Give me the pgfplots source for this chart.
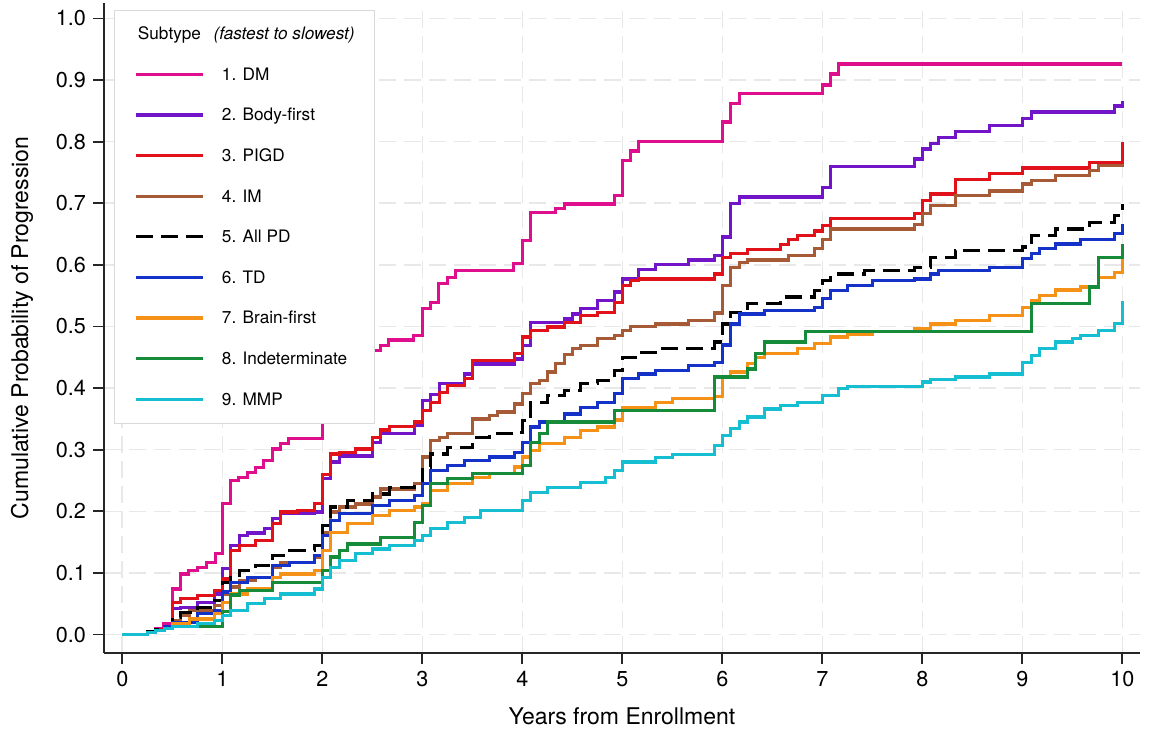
\documentclass[border=0pt]{standalone}
\usepackage{fontspec}
\setmainfont{TeX Gyre Heros}
\usepackage{pgfplots}
\pgfplotsset{compat=1.18}
\definecolor{cDM}{RGB}{222,14,140}
\definecolor{cBF}{RGB}{114,20,200}
\definecolor{cPIGD}{RGB}{225,18,26}
\definecolor{cIM}{RGB}{166,90,54}
\definecolor{cTD}{RGB}{20,50,200}
\definecolor{cBR}{RGB}{245,145,22}
\definecolor{cIN}{RGB}{22,140,58}
\definecolor{cMMP}{RGB}{22,190,210}
\newcommand\LE[1]{\raisebox{0pt}[7.5pt][1.5pt]{#1}}
\begin{document}
\begin{tikzpicture}[x=1pt,y=1pt]
\useasboundingbox (0,0) rectangle (585,367.5);
\begin{axis}[
  at={(52pt,41pt)}, anchor=south west,
  width=518pt, height=325pt, scale only axis,
  xmin=-0.183, xmax=10.177, ymin=-0.030, ymax=1.025,
  axis x line*=bottom, axis y line*=left,
  axis line style={line width=1pt, black!85, -},
  every outer x axis line/.append style={-},
  every outer y axis line/.append style={-},
  xtick={0,1,2,3,4,5,6,7,8,9,10},
  ytick={0,0.1,0.2,0.3,0.4,0.5,0.6,0.7,0.8,0.9,1.0},
  tick align=outside, major tick length=5.5pt,
  tick style={line width=0.9pt, black!85},
  grid=major,
  grid style={dash pattern=on 8.5pt off 4pt, line width=0.8pt, color=black!9},
  /pgf/number format/assume math mode=true,
  yticklabel style={/pgf/number format/.cd, fixed, fixed zerofill, precision=1},
  ticklabel style={font=\fontsize{10.8}{13}\selectfont},
  xlabel={Years from Enrollment},
  ylabel={Cumulative Probability of Progression},
  label style={font=\fontsize{11.5}{14}\selectfont},
  xlabel style={at={(axis description cs:0.5,-0.0969)}, anchor=center},
  ylabel style={at={(axis description cs:-0.0792,0.5)}, anchor=center},
  const plot, no markers,
  every axis plot/.append style={line width=1.65pt},
  legend cell align=left,
  legend style={at={(axis description cs:0.0097,0.989)}, anchor=north west,
    draw=black!15, line width=0.6pt, fill=white,
    font=\fontsize{8.6}{10}\selectfont,
    inner xsep=10pt, inner ysep=7.75pt, row sep=11.3pt,
    nodes={inner sep=0pt},
    /tikz/every odd column/.append style={column sep=8.5pt}},
  legend image code/.code={\draw[#1, line width=1.65pt] (0pt,0pt) -- (33.5pt,0pt);},
]
\addlegendimage{empty legend}
\addlegendentry{\raisebox{0pt}[6.75pt][-3.8pt]{\hspace*{-42pt}Subtype\hspace{6.3pt}\textit{(fastest to slowest)}}}

\addplot[cDM] coordinates {(0,0) (0.25,0.005) (0.33,0.01) (0.41,0.018) (0.5,0.074) (0.58,0.098) (0.66,0.104) (0.75,0.109) (0.84,0.117) (0.93,0.131) (1.0,0.213) (1.08,0.25) (1.16,0.255) (1.25,0.263) (1.33,0.271) (1.41,0.282) (1.5,0.301) (1.58,0.31) (1.66,0.318) (2.0,0.40) (2.08,0.42) (2.17,0.43) (2.25,0.44) (2.33,0.45) (2.42,0.455) (2.51,0.461) (2.58,0.469) (2.66,0.478) (2.91,0.485) (3.0,0.529) (3.08,0.539) (3.16,0.57) (3.25,0.58) (3.33,0.591) (3.91,0.602) (4.0,0.64) (4.08,0.685) (4.33,0.692) (4.42,0.699) (4.92,0.712) (5.0,0.769) (5.08,0.785) (5.16,0.80) (6.0,0.832) (6.08,0.862) (6.17,0.878) (7.0,0.892) (7.08,0.91) (7.16,0.926) (10,0.926)};
\addlegendentry{\LE{1. DM}}

\addplot[cBF] coordinates {(0,0) (0.25,0.004) (0.33,0.008) (0.42,0.013) (0.5,0.042) (0.58,0.044) (0.75,0.052) (0.92,0.066) (1.0,0.107) (1.08,0.144) (1.17,0.161) (1.25,0.165) (1.42,0.172) (1.5,0.188) (1.58,0.196) (1.92,0.199) (2.0,0.253) (2.08,0.28) (2.17,0.29) (2.5,0.312) (2.58,0.326) (2.92,0.339) (3.0,0.38) (3.08,0.39) (3.17,0.407) (3.42,0.423) (3.5,0.439) (3.92,0.447) (4.0,0.469) (4.08,0.507) (4.42,0.512) (4.5,0.52) (4.58,0.529) (4.75,0.542) (4.92,0.556) (5.0,0.577) (5.16,0.592) (5.33,0.601) (5.66,0.608) (5.92,0.615) (6.0,0.645) (6.08,0.70) (6.17,0.71) (7.0,0.726) (7.08,0.76) (7.92,0.772) (8.0,0.788) (8.08,0.797) (8.16,0.807) (8.33,0.817) (8.67,0.826) (9.0,0.837) (9.09,0.848) (9.92,0.858) (10,0.866)};
\addlegendentry{\LE{2. Body-first}}

\addplot[cPIGD] coordinates {(0,0) (0.25,0.004) (0.33,0.008) (0.42,0.013) (0.5,0.052) (0.58,0.058) (0.75,0.063) (0.92,0.071) (1.0,0.09) (1.08,0.136) (1.17,0.144) (1.33,0.153) (1.5,0.18) (1.58,0.199) (1.75,0.201) (1.92,0.213) (2.0,0.26) (2.08,0.293) (2.17,0.296) (2.33,0.301) (2.5,0.32) (2.58,0.332) (2.67,0.338) (2.92,0.345) (3.0,0.364) (3.08,0.377) (3.17,0.393) (3.25,0.404) (3.42,0.415) (3.5,0.445) (3.92,0.456) (4.0,0.483) (4.08,0.494) (4.25,0.499) (4.42,0.507) (4.58,0.518) (4.75,0.523) (4.92,0.539) (5.0,0.566) (5.08,0.575) (5.16,0.577) (5.92,0.585) (6.0,0.612) (6.08,0.618) (6.25,0.625) (6.58,0.633) (6.66,0.641) (6.75,0.648) (6.92,0.655) (7.0,0.664) (7.08,0.675) (7.92,0.683) (8.0,0.705) (8.08,0.715) (8.33,0.739) (8.67,0.748) (9.0,0.757) (9.67,0.766) (10,0.80)};
\addlegendentry{\LE{3. PIGD}}

\addplot[cIM] coordinates {(0,0) (0.25,0.003) (0.33,0.007) (0.42,0.012) (0.5,0.023) (0.58,0.031) (0.67,0.039) (0.92,0.047) (1.0,0.066) (1.08,0.077) (1.17,0.088) (1.33,0.093) (1.5,0.109) (1.58,0.117) (1.92,0.126) (2.0,0.166) (2.08,0.199) (2.17,0.207) (2.33,0.212) (2.5,0.223) (2.58,0.236) (2.92,0.245) (3.0,0.288) (3.08,0.315) (3.17,0.32) (3.25,0.326) (3.5,0.35) (3.67,0.356) (3.75,0.361) (3.92,0.374) (4.0,0.391) (4.08,0.407) (4.17,0.412) (4.25,0.426) (4.33,0.44) (4.42,0.455) (4.5,0.464) (4.58,0.469) (4.75,0.48) (4.92,0.485) (5.0,0.493) (5.08,0.50) (5.33,0.504) (5.66,0.51) (5.92,0.522) (6.0,0.566) (6.08,0.596) (6.17,0.604) (6.25,0.608) (6.66,0.615) (6.92,0.626) (7.0,0.641) (7.08,0.658) (7.92,0.666) (8.0,0.683) (8.08,0.696) (8.33,0.712) (8.67,0.72) (9.0,0.731) (9.09,0.737) (9.33,0.745) (9.67,0.753) (9.76,0.761) (10,0.764)};
\addlegendentry{\LE{4. IM}}

\addplot[black, dash pattern=on 8.5pt off 4pt] coordinates {(0,0) (0.25,0.004) (0.33,0.008) (0.42,0.012) (0.5,0.028) (0.58,0.036) (0.75,0.044) (0.92,0.055) (1.0,0.085) (1.08,0.093) (1.17,0.104) (1.33,0.112) (1.5,0.128) (1.67,0.136) (1.92,0.144) (2.0,0.177) (2.08,0.207) (2.25,0.218) (2.5,0.228) (2.67,0.239) (2.92,0.245) (3.0,0.272) (3.08,0.293) (3.25,0.304) (3.5,0.32) (3.67,0.326) (3.92,0.328) (4.0,0.347) (4.08,0.377) (4.25,0.388) (4.42,0.396) (4.58,0.407) (4.75,0.412) (4.92,0.429) (5.0,0.45) (5.16,0.458) (5.33,0.464) (5.92,0.475) (6.0,0.504) (6.08,0.523) (6.25,0.537) (6.58,0.548) (6.92,0.558) (7.0,0.575) (7.08,0.585) (7.42,0.591) (7.92,0.596) (8.08,0.612) (8.33,0.623) (9.0,0.629) (9.09,0.648) (9.33,0.658) (9.67,0.669) (9.92,0.68) (10,0.699)};
\addlegendentry{\LE{5. All PD}}

\addplot[cTD] coordinates {(0,0) (0.25,0.003) (0.33,0.007) (0.42,0.012) (0.5,0.02) (0.75,0.034) (0.92,0.039) (1.0,0.069) (1.08,0.085) (1.25,0.093) (1.5,0.112) (1.67,0.117) (1.92,0.128) (2.0,0.161) (2.08,0.185) (2.17,0.196) (2.5,0.209) (2.67,0.218) (2.92,0.226) (3.0,0.245) (3.08,0.266) (3.25,0.274) (3.42,0.282) (3.67,0.288) (3.92,0.296) (4.0,0.312) (4.08,0.337) (4.17,0.345) (4.42,0.358) (4.58,0.369) (4.75,0.377) (4.92,0.391) (5.0,0.415) (5.16,0.423) (5.33,0.429) (5.66,0.437) (5.92,0.442) (6.0,0.47) (6.08,0.504) (6.17,0.52) (6.42,0.526) (6.92,0.531) (7.0,0.545) (7.08,0.558) (7.25,0.566) (7.5,0.575) (7.92,0.577) (8.08,0.585) (8.16,0.591) (8.67,0.596) (9.0,0.61) (9.09,0.618) (9.17,0.626) (9.33,0.634) (9.58,0.641) (9.92,0.651) (10,0.666)};
\addlegendentry{\LE{6. TD}}

\addplot[cBR] coordinates {(0,0) (0.25,0.003) (0.33,0.006) (0.42,0.01) (0.5,0.017) (0.67,0.025) (0.92,0.034) (1.0,0.052) (1.08,0.066) (1.25,0.074) (1.5,0.093) (1.58,0.098) (1.92,0.104) (2.0,0.136) (2.08,0.166) (2.25,0.18) (2.5,0.193) (2.67,0.201) (2.92,0.207) (3.0,0.212) (3.08,0.234) (3.25,0.245) (3.5,0.255) (3.67,0.261) (3.92,0.272) (4.0,0.288) (4.08,0.299) (4.17,0.31) (4.42,0.32) (4.58,0.331) (4.75,0.337) (4.92,0.348) (5.0,0.369) (5.33,0.377) (5.5,0.383) (5.92,0.386) (6.0,0.418) (6.08,0.426) (6.25,0.44) (6.33,0.45) (6.42,0.456) (6.75,0.464) (6.92,0.472) (7.08,0.483) (7.25,0.488) (7.5,0.492) (7.92,0.496) (8.08,0.504) (8.33,0.51) (8.67,0.518) (9.0,0.531) (9.09,0.542) (9.17,0.55) (9.33,0.559) (9.58,0.564) (9.76,0.58) (9.92,0.588) (10,0.615)};
\addlegendentry{\LE{7. Brain-first}}

\addplot[cIN] coordinates {(0,0) (0.25,0.003) (0.33,0.006) (0.42,0.01) (0.5,0.013) (1.0,0.037) (1.08,0.064) (1.17,0.072) (1.5,0.085) (2.0,0.104) (2.08,0.126) (2.17,0.136) (2.25,0.147) (2.58,0.158) (2.92,0.182) (3.0,0.209) (3.08,0.245) (3.25,0.253) (3.5,0.261) (4.0,0.274) (4.08,0.312) (4.17,0.326) (4.25,0.345) (4.92,0.364) (5.92,0.418) (6.25,0.431) (6.33,0.456) (6.42,0.475) (6.83,0.492) (9.09,0.537) (9.67,0.564) (9.76,0.612) (10,0.634)};
\addlegendentry{\LE{8. Indeterminate}}

\addplot[cMMP] coordinates {(0,0) (0.25,0.003) (0.33,0.006) (0.42,0.01) (0.5,0.013) (0.75,0.018) (0.92,0.023) (1.0,0.031) (1.08,0.039) (1.25,0.05) (1.42,0.058) (1.58,0.066) (1.92,0.074) (2.0,0.093) (2.08,0.109) (2.17,0.12) (2.33,0.131) (2.5,0.139) (2.67,0.144) (2.92,0.153) (3.0,0.161) (3.08,0.172) (3.25,0.182) (3.42,0.19) (3.58,0.201) (4.0,0.218) (4.08,0.231) (4.25,0.239) (4.58,0.247) (4.83,0.255) (4.92,0.266) (5.0,0.28) (5.33,0.287) (5.5,0.292) (5.92,0.307) (6.0,0.323) (6.08,0.334) (6.17,0.345) (6.25,0.353) (6.42,0.366) (6.58,0.372) (6.75,0.377) (7.0,0.388) (7.16,0.399) (7.25,0.402) (8.0,0.41) (8.08,0.414) (8.33,0.418) (8.67,0.423) (9.0,0.442) (9.09,0.453) (9.17,0.464) (9.33,0.475) (9.5,0.48) (9.58,0.485) (9.76,0.493) (9.92,0.505) (10,0.542)};
\addlegendentry{\LE{9. MMP}}
\end{axis}
\end{tikzpicture}
\end{document}
